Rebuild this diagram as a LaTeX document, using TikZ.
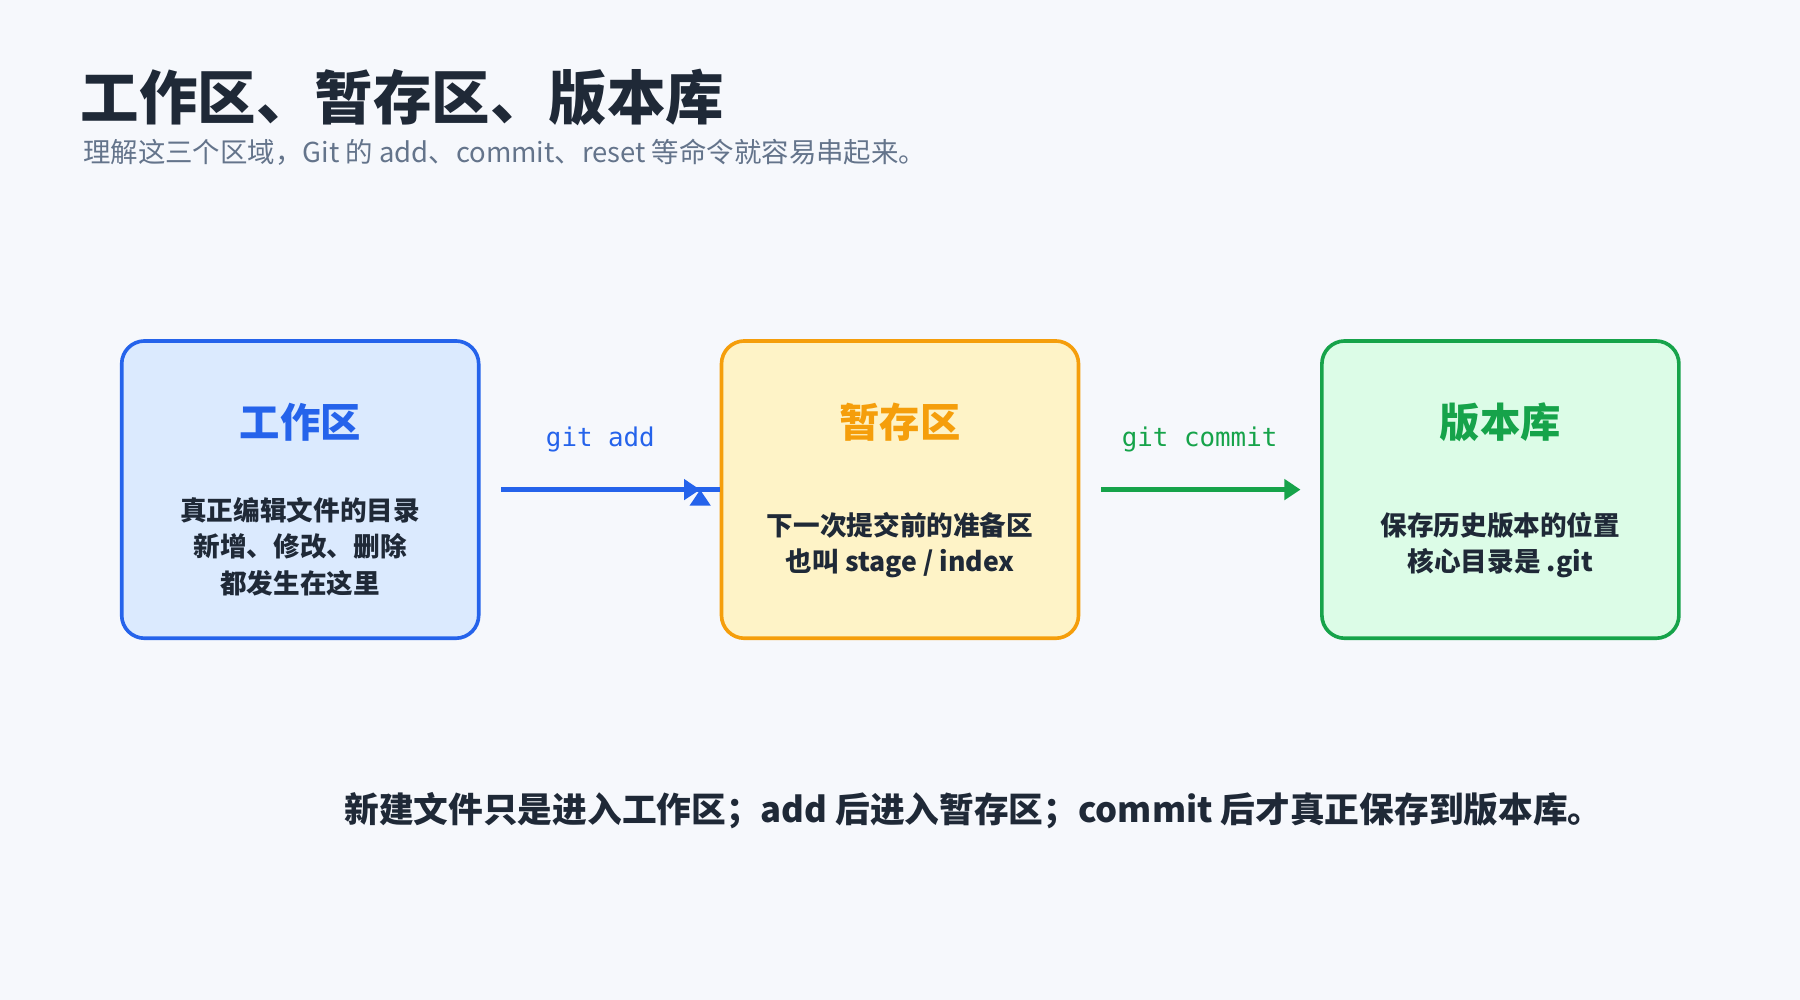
\documentclass[tikz,border=0pt]{standalone}
\usepackage{fontspec}
\setmainfont{Noto Sans CJK SC}
\setmonofont{DejaVu Sans Mono}
\usetikzlibrary{arrows.meta}
\definecolor{bgc}{HTML}{F6F8FC}
\definecolor{ink}{HTML}{1F2937}
\definecolor{muted}{HTML}{64748B}
\definecolor{wblue}{HTML}{2563EB}
\definecolor{wbluefill}{HTML}{DBEAFE}
\definecolor{sorange}{HTML}{F59E0B}
\definecolor{sorangefill}{HTML}{FEF3C7}
\definecolor{rgreen}{HTML}{16A34A}
\definecolor{rgreenfill}{HTML}{DCFCE7}
\tikzset{
  area/.style={draw=#1,fill=#1fill,line width=0.9pt,rounded corners=0.2cm,
    minimum width=3.11cm,minimum height=2.59cm},
  areatitle/.style={font=\fontsize{10}{12}\selectfont\bfseries,text=#1},
  areatext/.style={font=\fontsize{6.6}{9}\selectfont\bfseries,text=ink,align=center},
  flow/.style={draw=#1,line width=1.3pt,-{Triangle[length=4pt,width=5pt]}},
  flowlabel/.style={font=\fontsize{6.4}{8}\ttfamily,text=#1}
}
\begin{document}
\begin{tikzpicture}
\fill[bgc] (0,0) rectangle (15.68,8.71);
\useasboundingbox (0,0) rectangle (15.68,8.71);

\node[anchor=west,font=\fontsize{14.5}{16}\selectfont\bfseries,text=ink] (title) at (0.58,7.86) {工作区、暂存区、版本库};
\node[anchor=west,font=\fontsize{6.8}{8}\selectfont,text=muted] (sub) at (0.6,7.38) {理解这三个区域，Git 的 add、commit、reset 等命令就容易串起来。};

\node[area=wblue] (work) at (2.615,4.445) {};
\node[area=sorange] (stage) at (7.84,4.445) {};
\node[area=rgreen] (repo) at (13.07,4.445) {};

\node[areatitle=wblue] (worktitle) at (2.615,5.03) {工作区};
\node[areatitle=sorange] (stagetitle) at (7.84,5.03) {暂存区};
\node[areatitle=rgreen] (repotitle) at (13.07,5.03) {版本库};

\node[areatext] (worktext) at (2.615,3.95) {真正编辑文件的目录\\新增、修改、删除\\都发生在这里};
\node[areatext] (stagetext) at (7.84,3.96) {下一次提交前的准备区\\也叫 stage / index};
\node[areatext] (repotext) at (13.07,3.96) {保存历史版本的位置\\核心目录是 .git};

\draw[flow=wblue] (work.east) ++(0.18,0) coordinate (a1) -- (stage.west) ++(-0.17,0) coordinate (a2);
\draw[flow=wblue] ([xshift=0.18cm]work.east) -- ([xshift=-0.17cm]stage.west);
\draw[flow=rgreen] ([xshift=0.18cm]stage.east) -- ([xshift=-0.17cm]repo.west);
\node[flowlabel=wblue] (addlabel) at (5.23,4.88) {git add};
\node[flowlabel=rgreen] (commitlabel) at (10.45,4.88) {git commit};

\node[font=\fontsize{8.6}{10}\selectfont\bfseries,text=ink] (note) at (8.48,1.65) {新建文件只是进入工作区；add 后进入暂存区；commit 后才真正保存到版本库。};
\end{tikzpicture}
\end{document}
